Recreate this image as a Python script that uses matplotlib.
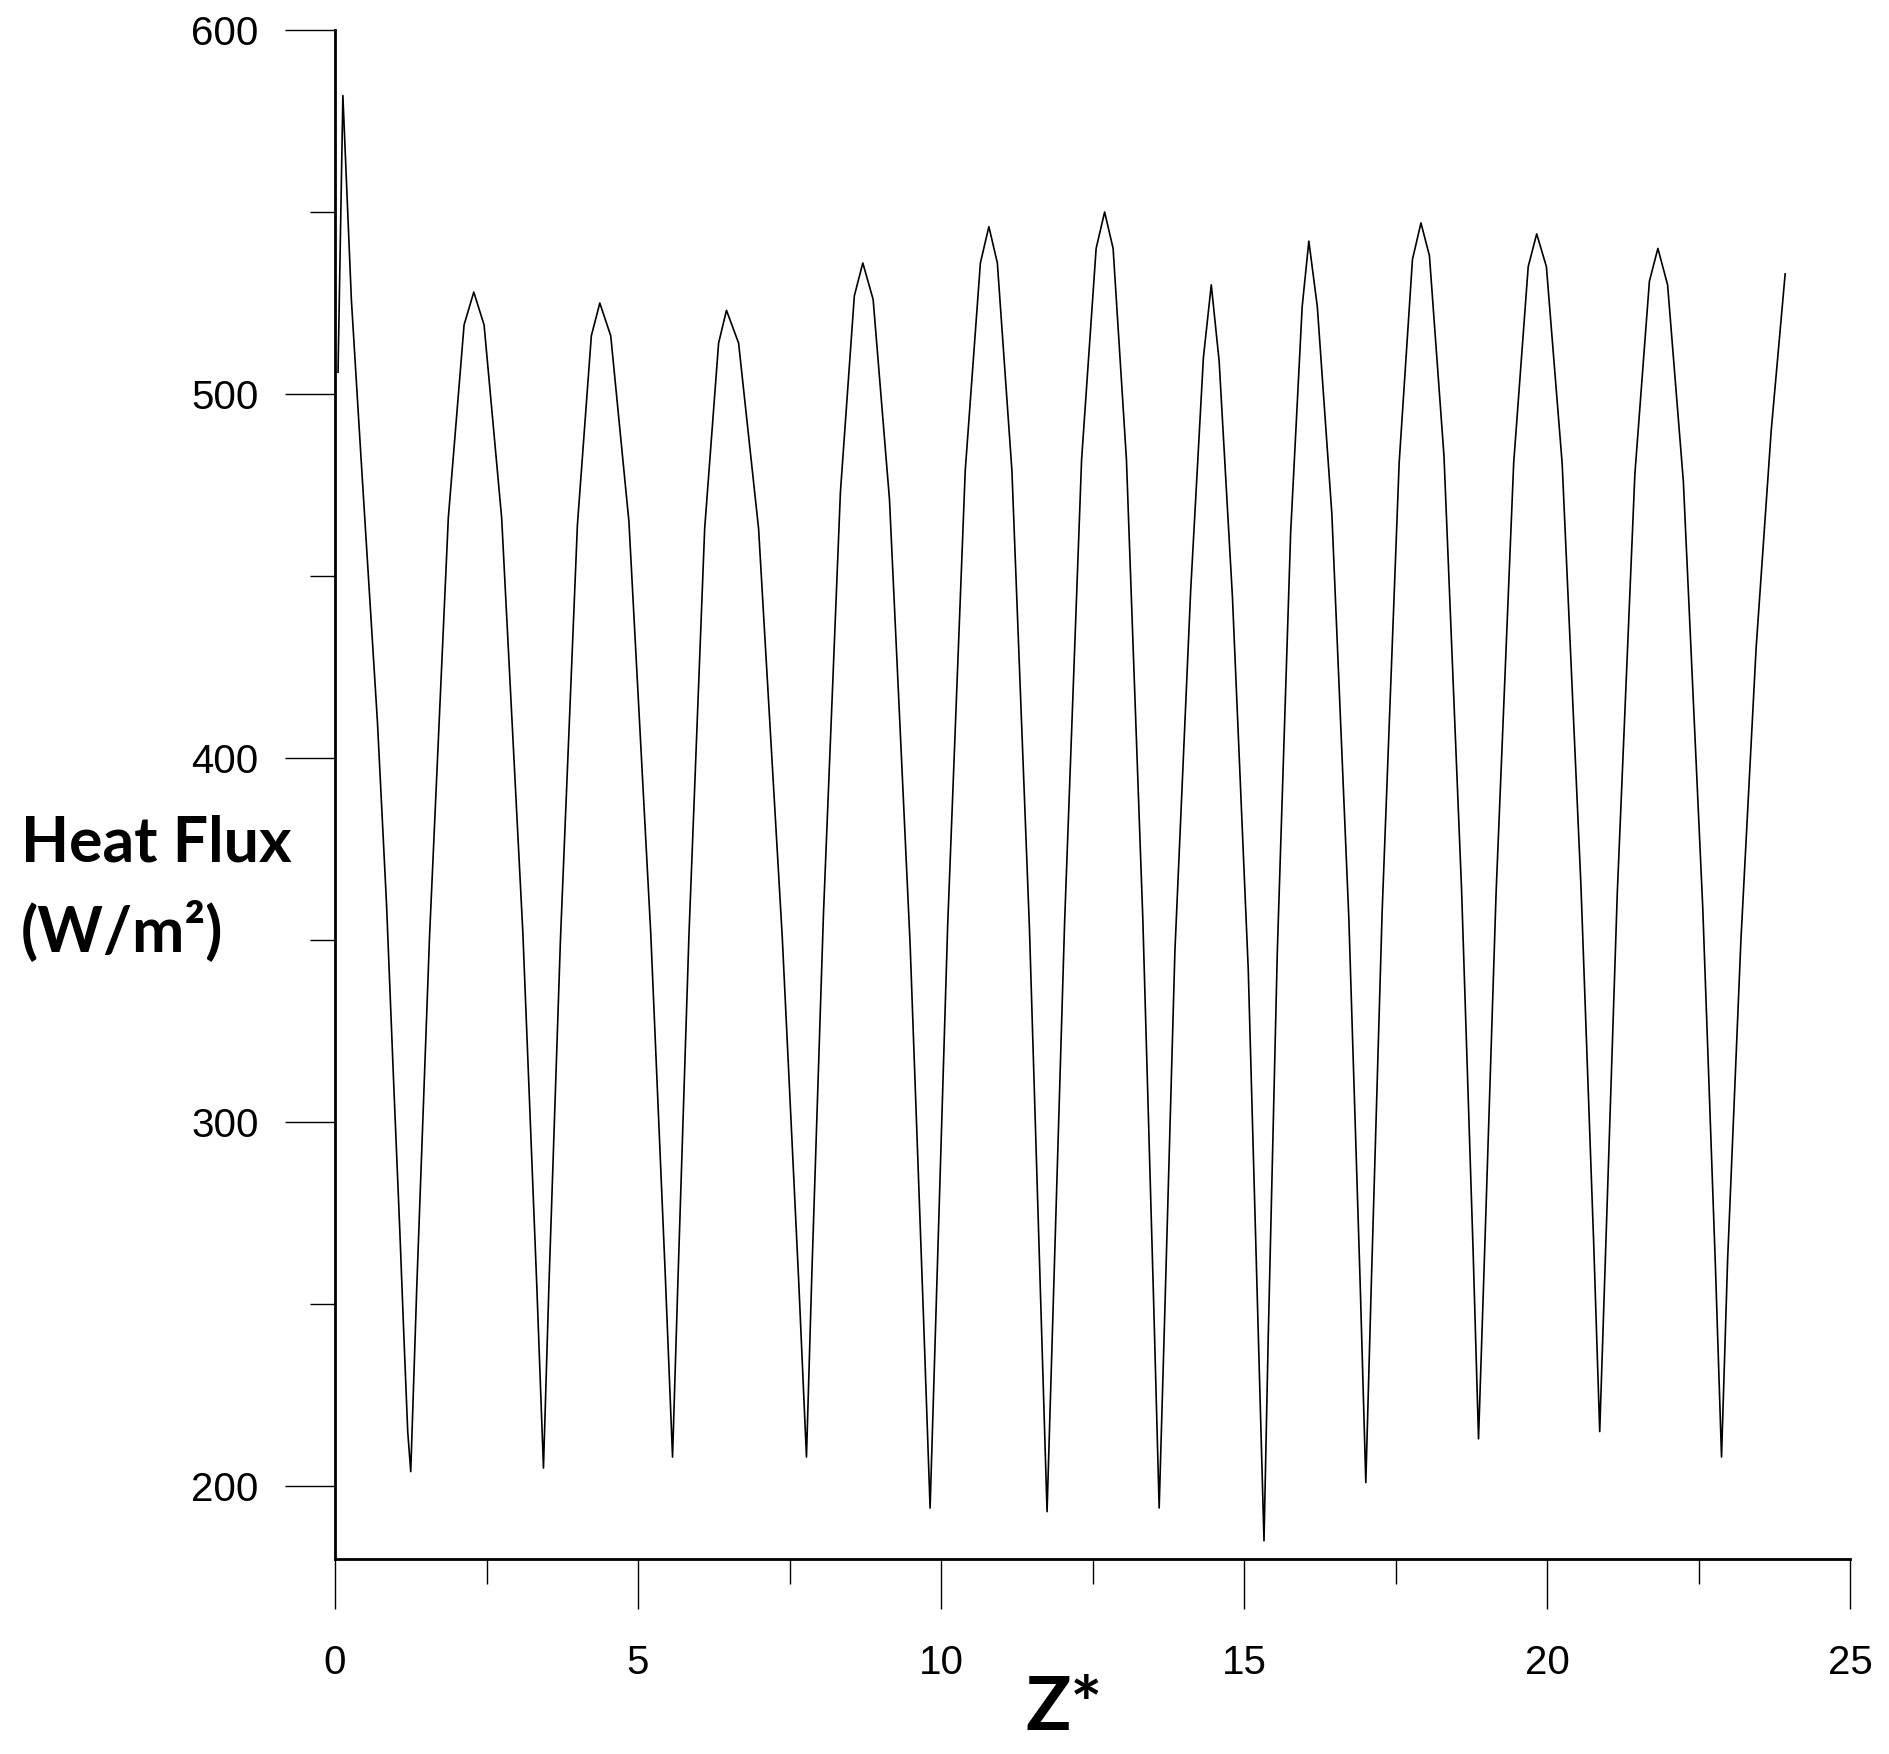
import numpy as np
import matplotlib.pyplot as plt
from matplotlib.ticker import MultipleLocator

# Z* positions and heat flux values
z_star = [
    0.05, 0.13, 0.21, 0.27, 0.42, 0.55, 0.70, 0.85, 0.97, 1.07, 1.13, 1.20,
    1.25, 1.35, 1.56, 1.87, 2.13, 2.29, 2.46, 2.75, 3.10, 3.33,
    3.44, 3.53, 3.72, 4.00, 4.23, 4.37, 4.55, 4.85, 5.21, 5.45,
    5.57, 5.66, 5.84, 6.10, 6.33, 6.46, 6.66, 6.99, 7.38, 7.65,
    7.78, 7.87, 8.06, 8.34, 8.57, 8.71, 8.88, 9.15, 9.49, 9.71,
    9.82, 9.92, 10.11, 10.40, 10.65, 10.79, 10.93, 11.17, 11.46, 11.65,
    11.75, 11.85, 12.04, 12.32, 12.56, 12.70, 12.84, 13.06, 13.33, 13.51,
    13.60, 13.69, 13.86, 14.12, 14.33, 14.46, 14.59, 14.81, 15.07, 15.24,
    15.33, 15.40, 15.55, 15.77, 15.96, 16.07, 16.21, 16.45, 16.73, 16.92,
    17.01, 17.10, 17.28, 17.56, 17.78, 17.92, 18.06, 18.30, 18.59, 18.78,
    18.87, 18.97, 19.16, 19.45, 19.69, 19.83, 19.99, 20.25, 20.56, 20.77,
    20.87, 20.97, 21.16, 21.45, 21.69, 21.83, 21.99, 22.25, 22.57, 22.78,
    22.88, 22.98, 23.20, 23.45, 23.70, 23.93]

heat_flux = [
    506, 582, 550, 526, 485, 450, 410, 360, 310, 270, 244, 215,
    204, 255, 351, 466, 519, 528, 519, 466, 352, 255,
    205, 255, 350, 464, 516, 525, 516, 465, 352, 258,
    208, 257, 351, 463, 514, 523, 514, 463, 351, 257,
    208, 259, 357, 473, 527, 536, 526, 471, 349, 247,
    194, 249, 354, 479, 536, 546, 536, 479, 353, 248,
    193, 249, 355, 482, 540, 550, 540, 482, 356, 250,
    194, 246, 347, 446, 510, 530, 509, 444, 342, 239,
    185, 241, 347, 462, 524, 542, 524, 467, 356, 254,
    201, 255, 358, 481, 537, 547, 538, 483, 364, 265,
    213, 264, 363, 481, 535, 544, 535, 481, 365, 267,
    215, 266, 363, 478, 531, 540, 530, 476, 359, 260,
    208, 262, 350, 430, 490, 533]

x_ticks = [0, 5, 10, 15, 20, 25]
y_ticks = [200, 300, 400, 500, 600]

W, H = 1889, 1754
fig = plt.figure(figsize=(W / 100, H / 100), dpi=100)
ax = fig.add_axes([335 / W, 1 - 1559 / H, (1850 - 335) / W, (1559 - 30) / H])

ax.plot(z_star, heat_flux, color="black", lw=1.2)

ax.set_xlim(0, 25)
ax.set_ylim(180, 600)
ax.set_xticks(x_ticks)
ax.set_yticks(y_ticks)
ax.xaxis.set_minor_locator(MultipleLocator(2.5))
ax.set_yticks([250, 350, 450, 550], minor=True)

for side in ["top", "right"]:
    ax.spines[side].set_visible(False)
for side in ["left", "bottom"]:
    ax.spines[side].set_linewidth(2.0)

ax.tick_params(which="major", direction="out", length=36, width=1.0)
ax.tick_params(which="minor", direction="out", length=18, width=1.0)
ax.tick_params(axis="x", which="major", pad=25)
ax.tick_params(axis="y", which="major", pad=19)
for lab in ax.get_xticklabels() + ax.get_yticklabels():
    lab.set_fontfamily("Liberation Sans")
    lab.set_fontsize(29)

fig.text(21 / W, 1 - 862 / H, "Heat Flux", family="Lato", weight="bold",
         fontsize=45, ha="left", va="baseline")
fig.text(21 / W, 1 - 952 / H, "(W/m\u00b2)", family="Lato", weight="bold",
         fontsize=45, ha="left", va="baseline")
fig.text(1064 / W, 1 - 1730 / H, "Z*", family="Lato", weight="bold",
         fontsize=54, ha="center", va="baseline")

fig.savefig("out.png", dpi=100, facecolor="white")
plt.close()
